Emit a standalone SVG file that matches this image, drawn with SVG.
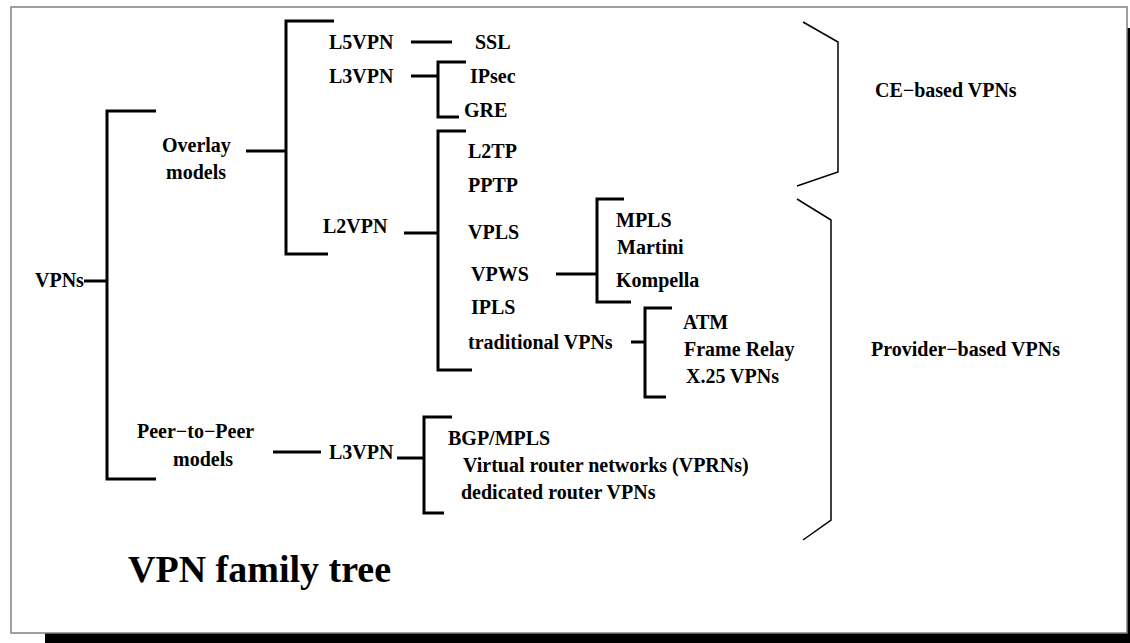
<svg xmlns="http://www.w3.org/2000/svg" width="1130" height="643" viewBox="0 0 1130 643">
<style>
text{font-family:"Liberation Serif","Times New Roman",serif;font-weight:bold;font-size:20px;fill:#000}
.title{font-size:38px}
.tree{fill:none;stroke:#000;stroke-width:3}
.brace{fill:none;stroke:#000;stroke-width:1.5}
</style>
<rect x="0" y="0" width="1130" height="643" fill="#fff"/>
<rect id="shadow" x="45" y="28" width="1085" height="615" fill="#000"/>
<rect id="frame" x="11" y="7" width="1116" height="626" fill="#fff" stroke="#808080" stroke-width="1.5"/>
<g id="connectors">
<path class="tree" d="M84,281H107"/>
<path class="tree" d="M156,111H107V479H156"/>
<path class="tree" d="M246,151H286"/>
<path class="tree" d="M334,21H286V254H328"/>
<path class="tree" d="M411,42H452"/>
<path class="tree" d="M411,76H438"/>
<path class="tree" d="M466,62H438V117H459"/>
<path class="tree" d="M404,233H438"/>
<path class="tree" d="M466,131H438V370H472"/>
<path class="tree" d="M556,274H597"/>
<path class="tree" d="M624,199H597V302H631"/>
<path class="tree" d="M631,342H645"/>
<path class="tree" d="M672,308H645V397H666"/>
<path class="tree" d="M273,452H321"/>
<path class="tree" d="M397,458H424"/>
<path class="tree" d="M452,417H424V513H444"/>
<path class="brace" d="M803,22L838,42V172L797,186"/>
<path class="brace" d="M797,199L831,220V520L803,540"/>
</g>
<g id="n-vpns"><text x="35" y="287">VPNs</text></g>
<g id="n-overlay"><text x="162" y="152">Overlay</text><text x="166" y="179">models</text></g>
<g id="n-l5vpn"><text x="329" y="49">L5VPN</text></g>
<g id="n-ssl"><text x="475" y="49">SSL</text></g>
<g id="n-l3vpn"><text x="329" y="83">L3VPN</text></g>
<g id="n-ipsec"><text x="470" y="83">IPsec</text></g>
<g id="n-gre"><text x="464" y="117">GRE</text></g>
<g id="n-l2vpn"><text x="323" y="233">L2VPN</text></g>
<g id="n-l2tp"><text x="468" y="158">L2TP</text></g>
<g id="n-pptp"><text x="468" y="192">PPTP</text></g>
<g id="n-vpls"><text x="468" y="239">VPLS</text></g>
<g id="n-vpws"><text x="471" y="281">VPWS</text></g>
<g id="n-ipls"><text x="471" y="314">IPLS</text></g>
<g id="n-trad"><text x="468" y="349">traditional VPNs</text></g>
<g id="n-mpls"><text x="616" y="227">MPLS</text></g>
<g id="n-martini"><text x="617" y="254">Martini</text></g>
<g id="n-kompella"><text x="616" y="287">Kompella</text></g>
<g id="n-atm"><text x="683" y="329">ATM</text></g>
<g id="n-fr"><text x="684" y="356">Frame Relay</text></g>
<g id="n-x25"><text x="686" y="383">X.25 VPNs</text></g>
<g id="n-p2p"><text x="137" y="438">Peer−to−Peer</text><text x="173" y="466">models</text></g>
<g id="n-l3vpn2"><text x="329" y="459">L3VPN</text></g>
<g id="n-bgp"><text x="448" y="445">BGP/MPLS</text></g>
<g id="n-vprn"><text x="463" y="472">Virtual router networks (VPRNs)</text></g>
<g id="n-dedicated"><text x="461" y="499">dedicated router VPNs</text></g>
<g id="n-ce"><text x="875" y="97">CE−based VPNs</text></g>
<g id="n-provider"><text x="871" y="356">Provider−based VPNs</text></g>
<g id="title"><text class="title" x="128" y="582">VPN family tree</text></g>
</svg>
